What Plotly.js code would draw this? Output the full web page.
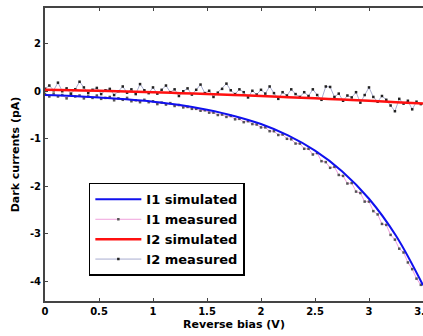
<!DOCTYPE html>
<html>
<head>
<meta charset="utf-8">
<script src="https://cdn.plot.ly/plotly-3.0.1.min.js"></script>
<style>html,body{margin:0;padding:0;background:#fff;}#chart{width:423px;height:336px;}</style>
</head>
<body>
<div id="chart"></div>
<script>
// Simulated curves (coarse grid, drawn as smooth splines)
var biasSim = [0,0.25,0.5,0.75,1,1.25,1.5,1.75,2,2.25,2.5,2.75,3,3.25,3.5];
var i1Simulated = [-0.08,-0.10,-0.13,-0.17,-0.22,-0.29,-0.39,-0.52,-0.69,-0.93,-1.25,-1.68,-2.26,-3.04,-4.08];
var i2Simulated = [0.03,0.02,0.01,-0.005,-0.02,-0.04,-0.06,-0.08,-0.10,-0.125,-0.15,-0.175,-0.20,-0.23,-0.26];

// Measured data
var biasMeas = [0,0.04,0.08,0.12,0.16,0.2,0.24,0.28,0.32,0.36,0.4,0.44,0.48,0.52,0.56,0.6,0.64,0.68,0.72,0.76,0.8,0.84,0.88,0.92,0.96,1,1.04,1.08,1.12,1.16,1.2,1.24,1.28,1.32,1.36,1.4,1.44,1.48,1.52,1.56,1.6,1.64,1.68,1.72,1.76,1.8,1.84,1.88,1.92,1.96,2,2.04,2.08,2.12,2.16,2.2,2.24,2.28,2.32,2.36,2.4,2.44,2.48,2.52,2.56,2.6,2.64,2.68,2.72,2.76,2.8,2.84,2.88,2.92,2.96,3,3.04,3.08,3.12,3.16,3.2,3.24,3.28,3.32,3.36,3.4,3.44,3.48];
var i1Measured = [-0.06,-0.11,-0.05,-0.11,-0.08,-0.15,-0.07,-0.11,-0.09,-0.15,-0.11,-0.14,-0.09,-0.16,-0.14,-0.12,-0.19,-0.15,-0.18,-0.14,-0.21,-0.19,-0.23,-0.18,-0.23,-0.21,-0.27,-0.24,-0.28,-0.25,-0.31,-0.29,-0.34,-0.33,-0.37,-0.37,-0.41,-0.40,-0.45,-0.45,-0.50,-0.49,-0.54,-0.52,-0.59,-0.58,-0.65,-0.63,-0.69,-0.70,-0.76,-0.76,-0.84,-0.84,-0.92,-0.91,-1.00,-1.01,-1.10,-1.10,-1.21,-1.21,-1.33,-1.30,-1.47,-1.49,-1.61,-1.59,-1.76,-1.78,-1.94,-1.93,-2.11,-2.14,-2.32,-2.32,-2.52,-2.59,-2.79,-2.81,-3.02,-3.12,-3.31,-3.39,-3.60,-3.74,-3.94,-4.07];
var i2Measured = [0.05,0.12,0.02,0.18,0.00,0.06,-0.05,0.04,0.20,0.08,-0.04,0.03,0.07,-0.06,0.02,0.05,-0.08,0.00,0.10,-0.03,0.04,-0.06,0.15,0.02,-0.04,0.08,-0.05,0.03,0.12,-0.02,0.04,-0.10,0.00,0.06,-0.07,0.03,0.14,-0.04,0.01,-0.12,-0.03,0.05,0.16,0.02,-0.06,0.04,-0.02,-0.13,0.01,-0.07,0.03,-0.05,0.10,-0.04,-0.16,-0.02,-0.09,0.04,-0.06,-0.12,-0.02,-0.10,0.04,-0.08,-0.18,0.10,0.09,-0.12,-0.05,-0.20,-0.09,-0.13,-0.02,-0.24,-0.08,0.08,-0.12,-0.22,-0.10,-0.18,-0.30,-0.42,-0.16,-0.26,-0.20,-0.38,-0.22,-0.27];

var xTickVals = [0,0.5,1,1.5,2,2.5,3,3.5];
var yTickVals = [-4,-3,-2,-1,0,1];
var yTickText = ['-4','-3','-2','-1','0','2'];

var fam = 'DejaVu Sans';
var traces = [
  {x: biasMeas, y: i1Measured, name: 'I1 measured', mode: 'lines+markers', legendrank: 2,
   line: {color: '#f0a0dc', width: 1}, marker: {color: '#555', size: 2.5, symbol: 'square'}},
  {x: biasMeas, y: i2Measured, name: 'I2 measured', mode: 'lines+markers', legendrank: 4,
   line: {color: '#a8acd0', width: 1}, marker: {color: '#222', size: 2.5, symbol: 'square'}},
  {x: biasSim, y: i1Simulated, name: 'I1 simulated', mode: 'lines', legendrank: 1,
   line: {color: '#1010ee', width: 2, shape: 'spline'}},
  {x: biasSim, y: i2Simulated, name: 'I2 simulated', mode: 'lines', legendrank: 3,
   line: {color: '#ff1010', width: 2.5, shape: 'spline'}}
];

var layout = {
  width: 423, height: 336,
  margin: {l: 45, r: 0, t: 8, b: 35},
  paper_bgcolor: '#fff', plot_bgcolor: '#fff',
  font: {family: fam, size: 10, color: '#000', weight: 'bold'},
  showlegend: true,
  legend: {x: 0.116, y: 0.403, xanchor: 'left', yanchor: 'top',
    bgcolor: '#fff', bordercolor: '#000', borderwidth: 1.5,
    font: {family: fam, size: 13, color: '#000', weight: 'bold'},
    itemwidth: 46, tracegroupgap: 0},
  xaxis: {range: [0, 3.5], tickvals: xTickVals, ticks: 'inside', ticklen: 3, tickcolor: '#444',
    ticklabeloverflow: 'allow',
    showline: true, linecolor: '#444', linewidth: 2, mirror: 'ticks', showgrid: false, zeroline: false,
    tickfont: {family: fam, size: 10, weight: 'bold'},
    title: {text: 'Reverse bias (V)', font: {family: fam, size: 11, weight: 'bold'}, standoff: 4}},
  yaxis: {range: [-4.41, 1.75], tickvals: yTickVals, ticktext: yTickText, ticks: 'inside', ticklen: 3, tickcolor: '#444',
    showline: true, linecolor: '#444', linewidth: 2, showgrid: false, zeroline: false,
    tickfont: {family: fam, size: 10, weight: 'bold'},
    title: {text: 'Dark currents (pA)', font: {family: fam, size: 11, weight: 'bold'}, standoff: 8}}
};

Plotly.newPlot('chart', traces, layout, {displayModeBar: false, staticPlot: true});
</script>
</body>
</html>
